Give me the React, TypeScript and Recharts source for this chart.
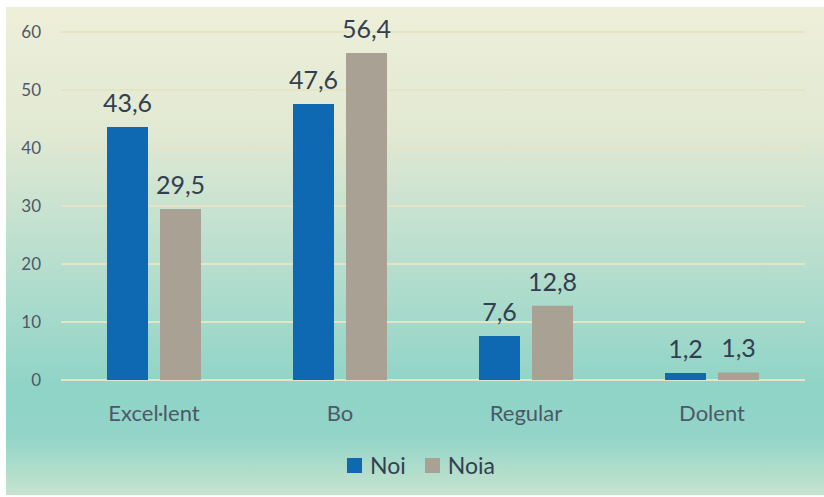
import React from 'react';
import { BarChart, Bar, XAxis, YAxis, CartesianGrid, Legend, LabelList } from 'recharts';

const categories = ['Excel·lent', 'Bo', 'Regular', 'Dolent'];
const noiValues = [43.6, 47.6, 7.6, 1.2];
const noiaValues = [29.5, 56.4, 12.8, 1.3];
const yTicks = [0, 10, 20, 30, 40, 50, 60];

const data = categories.map((name, i) => ({ name, noi: noiValues[i], noia: noiaValues[i] }));

const FONT = 'Lato, "Open Sans", sans-serif';
const BLUE = '#0F69B2';
const GRAY = '#AAA195';
const TEXT = '#333F50';

const fmt = (v: number) => v.toFixed(1).replace('.', ',');

function LegendContent() {
  const items = [
    { label: 'Noi', color: BLUE },
    { label: 'Noia', color: GRAY },
  ];
  return (
    <div style={{ display: 'flex', alignItems: 'center', fontFamily: FONT, fontSize: 23, color: TEXT }}>
      {items.map((it, i) => (
        <div key={it.label} style={{ display: 'flex', alignItems: 'center', marginRight: i === 0 ? 19 : 0 }}>
          <span style={{ width: 15, height: 15, background: it.color, display: 'inline-block', marginRight: 8 }} />
          <span>{it.label}</span>
        </div>
      ))}
    </div>
  );
}

export default function App() {
  return (
    <div style={{ position: 'absolute', left: 0, top: 0, width: 824, height: 497, background: '#fff' }}>
      <div
        style={{
          position: 'absolute',
          left: 6,
          top: 7,
          width: 818,
          height: 488,
          background:
            'linear-gradient(to bottom, #EEEFD9 0%, #E2E9D3 25%, #B8DECE 52%, #8FD4C7 78%, #92D5C8 88%, #C6E3CE 100%)',
        }}
      />
      <div style={{ position: 'absolute', left: 0, top: 0 }}>
        <BarChart
          width={824}
          height={497}
          data={data}
          margin={{ top: 32, right: 19, left: 1, bottom: 77 }}
          barSize={41}
          barGap={12}
        >
          <CartesianGrid vertical={false} stroke="#E6E4C6" strokeWidth={2} />
          <XAxis
            dataKey="name"
            axisLine={false}
            tickLine={false}
            tickSize={0}
            tickMargin={25}
            height={40}
            tick={{ fontSize: 22, fill: '#4D5868', fontFamily: FONT }}
          />
          <YAxis
            width={60}
            domain={[0, 60]}
            ticks={yTicks}
            axisLine={false}
            tickLine={false}
            tickSize={0}
            tickMargin={20}
            tick={{ fontSize: 17, fill: '#4D5868', fontFamily: FONT }}
          />
          <Legend
            layout="horizontal"
            align="center"
            verticalAlign="middle"
            content={() => <LegendContent />}
            wrapperStyle={{ left: 347, top: 451, width: 200 }}
          />
          <Bar dataKey="noi" name="Noi" fill={BLUE} isAnimationActive={false}>
            <LabelList
              dataKey="noi"
              position="top"
              offset={15}
              formatter={(v: any) => fmt(Number(v))}
              style={{ fontSize: 25, fill: TEXT, fontFamily: FONT }}
            />
          </Bar>
          <Bar dataKey="noia" name="Noia" fill={GRAY} isAnimationActive={false}>
            <LabelList
              dataKey="noia"
              position="top"
              offset={15}
              formatter={(v: any) => fmt(Number(v))}
              style={{ fontSize: 25, fill: TEXT, fontFamily: FONT }}
            />
          </Bar>
        </BarChart>
      </div>
    </div>
  );
}
